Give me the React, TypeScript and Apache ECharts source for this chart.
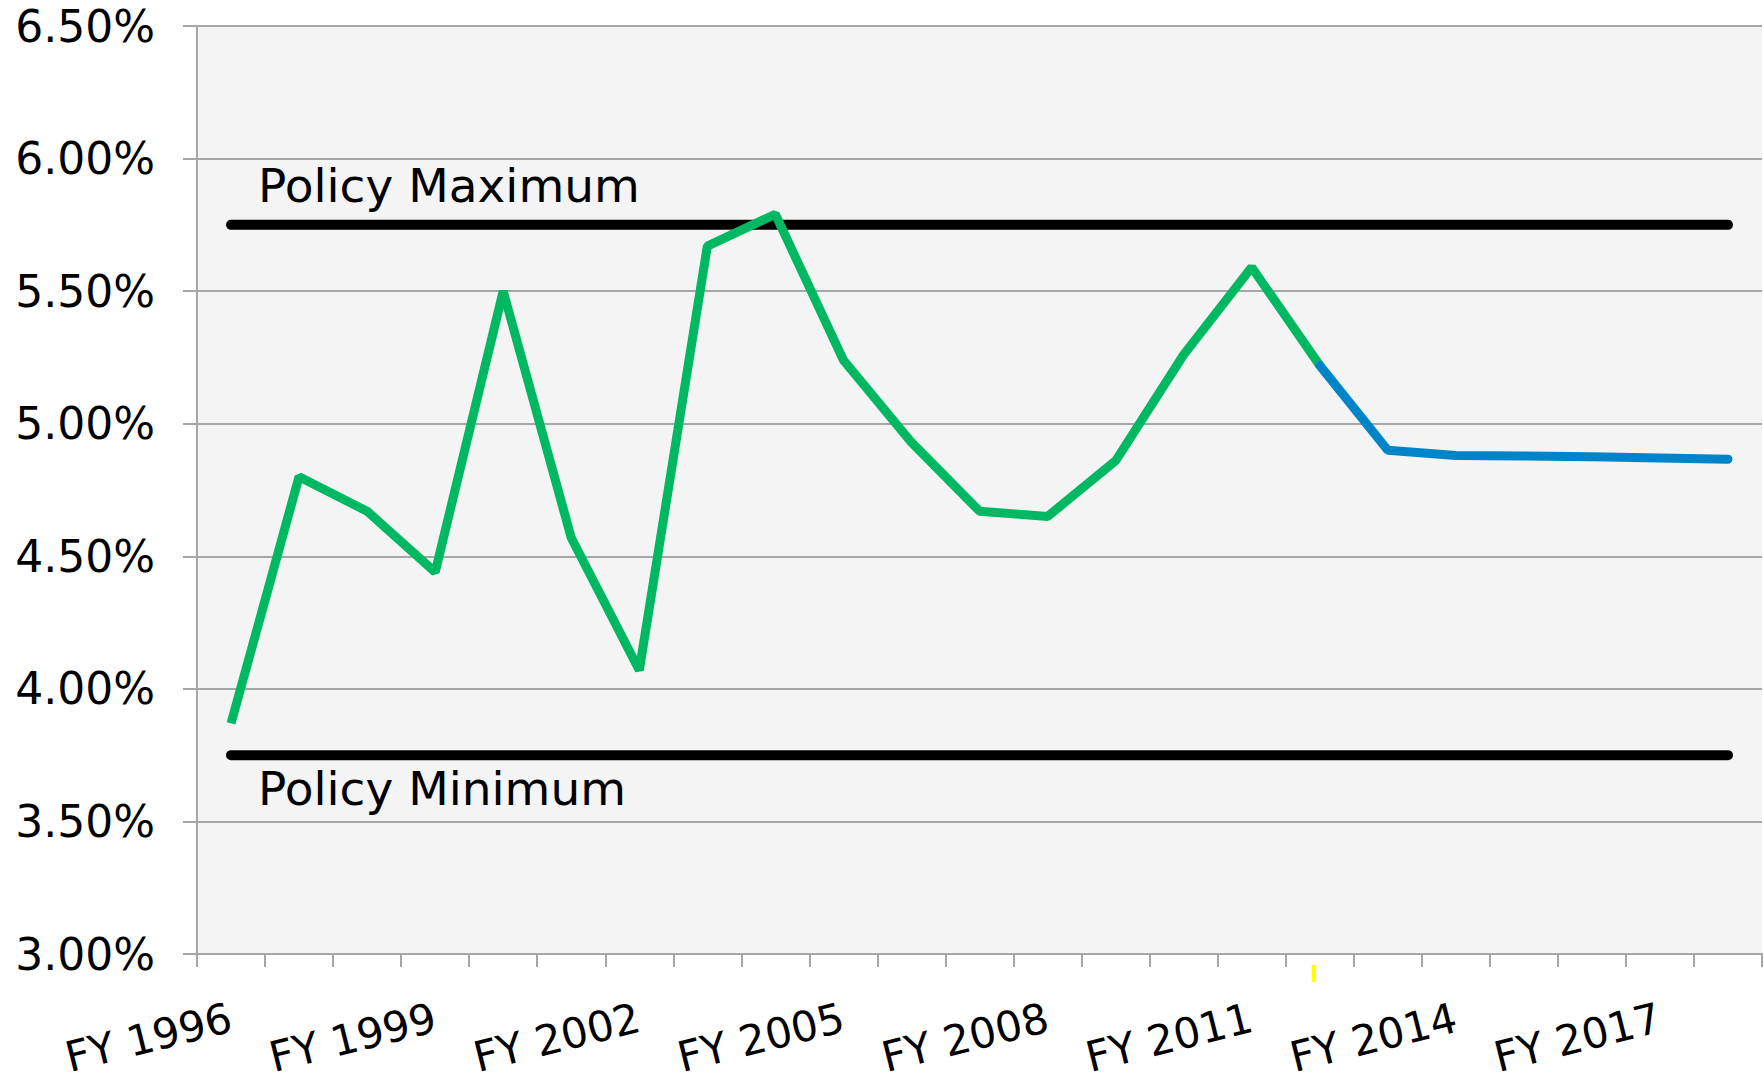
import React, { useEffect, useRef } from 'react';
import * as echarts from 'echarts';

const categories = [
  'FY 1996', 'FY 1997', 'FY 1998', 'FY 1999', 'FY 2000', 'FY 2001', 'FY 2002', 'FY 2003',
  'FY 2004', 'FY 2005', 'FY 2006', 'FY 2007', 'FY 2008', 'FY 2009', 'FY 2010', 'FY 2011',
  'FY 2012', 'FY 2013', 'FY 2014', 'FY 2015', 'FY 2016', 'FY 2017', 'FY 2018',
];

// Actual rates FY1996–FY2012 (green)
const actualRates = [3.87, 4.80, 4.67, 4.44, 5.50, 4.57, 4.07, 5.67, 5.79, 5.24, 4.93, 4.67, 4.65, 4.86, 5.26, 5.59, 5.22];
// Projected rates FY2012–FY2018 (blue)
const projectedRates = [5.22, 4.90, 4.88, 4.878, 4.875, 4.871, 4.866];
const projectedStartIndex = 16;

const policyMaximum = 5.75;
const policyMinimum = 3.75;

const yMin = 3.0;
const yMax = 6.5;
const yStep = 0.5;

const FONT = '"DejaVu Sans", Verdana, sans-serif';

export default function App() {
  const ref = useRef<HTMLDivElement>(null);

  useEffect(() => {
    document.body.style.margin = '0';
    document.body.style.overflow = 'hidden';
    const chart = echarts.init(ref.current as HTMLDivElement, null, { renderer: 'svg' });

    const greenData = categories.map((_, i) => (i < actualRates.length ? actualRates[i] : null));
    const blueData = categories.map((_, i) =>
      i >= projectedStartIndex ? projectedRates[i - projectedStartIndex] : null
    );
    const maxData = categories.map(() => policyMaximum);
    const minData = categories.map(() => policyMinimum);

    const gray = '#A6A6A6';

    const option: any = {
      animation: false,
      backgroundColor: '#ffffff',
      grid: {
        left: 197,
        right: 2,
        top: 26,
        bottom: 127,
        show: true,
        backgroundColor: '#F4F4F4',
        borderWidth: 0,
      },
      xAxis: {
        type: 'category',
        data: categories,
        boundaryGap: true,
        axisLine: { show: true, lineStyle: { color: gray, width: 2 } },
        axisTick: { show: true, interval: 0, length: 13, lineStyle: { color: gray, width: 2 } },
        axisLabel: {
          interval: 2,
          rotate: 14,
          margin: 63,
          color: '#000',
          fontSize: 42,
          fontFamily: FONT,
        },
        splitLine: { show: false },
      },
      yAxis: {
        type: 'value',
        min: yMin,
        max: yMax,
        interval: yStep,
        axisLine: { show: true, lineStyle: { color: gray, width: 2 } },
        axisTick: { show: true, length: 14, lineStyle: { color: gray, width: 2 } },
        axisLabel: {
          margin: 42,
          color: '#000',
          fontSize: 44,
          fontFamily: FONT,
          padding: [6, 0, 0, 0],
          formatter: (v: number) => v.toFixed(2) + '%',
        },
        splitLine: { show: true, lineStyle: { color: gray, width: 2 } },
      },
      series: [
        {
          name: 'Policy Maximum',
          type: 'line',
          data: maxData,
          symbol: 'none',
          lineStyle: { color: '#000', width: 10, cap: 'round' },
          z: 2,
        },
        {
          name: 'Policy Minimum',
          type: 'line',
          data: minData,
          symbol: 'none',
          lineStyle: { color: '#000', width: 10, cap: 'round' },
          z: 2,
        },
        {
          name: 'Actual',
          type: 'line',
          data: greenData,
          symbol: 'none',
          connectNulls: false,
          lineStyle: { color: '#00B862', width: 9 },
          z: 3,
        },
        {
          name: 'Projected',
          type: 'line',
          data: blueData,
          symbol: 'none',
          connectNulls: false,
          lineStyle: { color: '#0084C9', width: 9, cap: 'round' },
          z: 4,
        },
      ],
    };

    chart.setOption(option);

    const pMax = chart.convertToPixel({ gridIndex: 0 }, [0, policyMaximum]) as number[];
    const pMin = chart.convertToPixel({ gridIndex: 0 }, [0, policyMinimum]) as number[];
    const pMark = chart.convertToPixel({ gridIndex: 0 }, [projectedStartIndex, yMin]) as number[];

    chart.setOption({
      graphic: [
        {
          type: 'text',
          x: pMax[0] + 27,
          y: pMax[1] - 39,
          z: 10,
          style: {
            text: 'Policy Maximum',
            fontSize: 47,
            fontFamily: FONT,
            fill: '#000',
            align: 'left',
            verticalAlign: 'middle',
          },
        },
        {
          type: 'text',
          x: pMin[0] + 27,
          y: pMin[1] + 33,
          z: 10,
          style: {
            text: 'Policy Minimum',
            fontSize: 47,
            fontFamily: FONT,
            fill: '#000',
            align: 'left',
            verticalAlign: 'middle',
          },
        },
        {
          type: 'rect',
          shape: { x: pMark[0] - 8, y: pMark[1] + 11, width: 4, height: 17 },
          style: { fill: '#FFFF00' },
          z: 10,
        },
      ],
    });

    return () => chart.dispose();
  }, []);

  return <div ref={ref} style={{ width: 1764, height: 1081 }} />;
}
